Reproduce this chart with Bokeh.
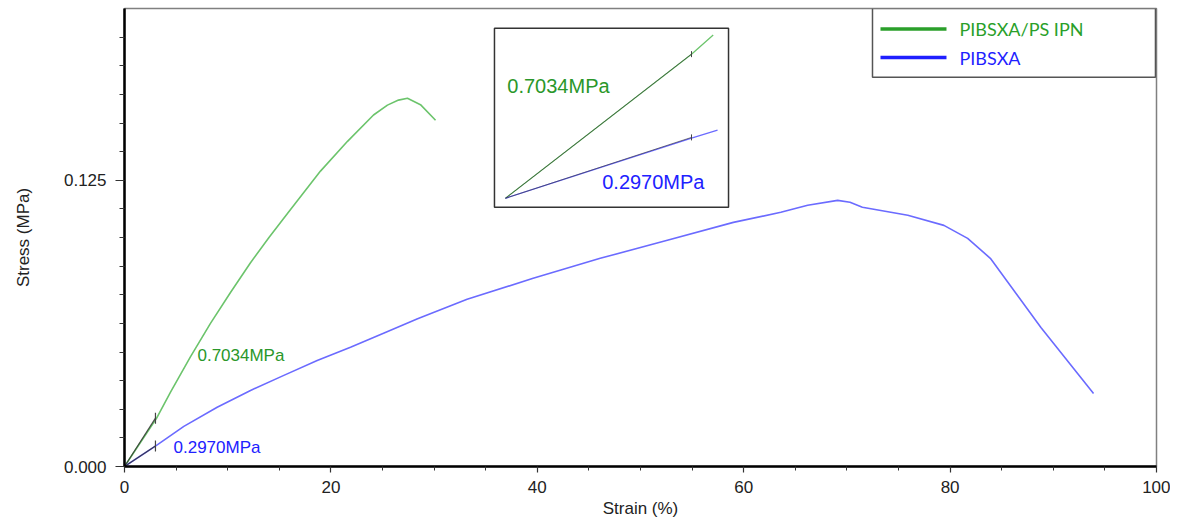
from bokeh.plotting import figure
from bokeh.models import Range1d, FixedTicker, PrintfTickFormatter
from bokeh.core.properties import value
from bokeh.embed import file_html
from bokeh.resources import INLINE

# ---------------- data ----------------
ipn_strain = [0, 3.1, 4.46, 6.40, 8.33, 10.27, 12.21, 14.0, 15.79, 18.99, 21.61,
              24.13, 25.48, 26.55, 27.42, 28.68, 30.14]
ipn_stress = [0, 0.0210, 0.0325, 0.0480, 0.0625, 0.0760, 0.0890, 0.1000, 0.1105,
              0.1290, 0.1420, 0.1535, 0.1578, 0.1600, 0.1608, 0.1580, 0.1512]

pib_strain = [0, 3.1, 5.75, 8.98, 12.21, 15.44, 18.67, 21.9, 25.1, 28.4, 33.2,
              39.6, 46.1, 52.6, 59.0, 63.6, 66.2, 69.1, 70.3, 71.5, 75.9, 79.4,
              81.7, 83.9, 88.8, 93.9]
pib_stress = [0, 0.0092, 0.0175, 0.0259, 0.0332, 0.0398, 0.0463, 0.0521, 0.0582,
              0.0645, 0.0730, 0.0822, 0.0909, 0.0988, 0.1066, 0.1110, 0.1141,
              0.1162, 0.1154, 0.1132, 0.1097, 0.1053, 0.0996, 0.0909, 0.0607,
              0.0319]

# initial (linear) region shown in the inset
ipn_inset_strain = [0, 3.0, 3.35]
ipn_inset_stress = [0, 0.0211, 0.0239]
pib_inset_strain = [0, 3.0, 3.42]
pib_inset_stress = [0, 0.0088, 0.00996]

series_names = ["PIBSXA/PS IPN", "PIBSXA"]
moduli = [0.7034, 0.2970]            # MPa, Young's modulus from fit
modulus_labels = ["0.7034MPa", "0.2970MPa"]
fit_strain = [0, 3.0]                # fit window (%)

x_ticks = [0, 20, 40, 60, 80, 100]
x_minor = [5, 10, 15, 25, 30, 35, 45, 50, 55, 65, 70, 75, 85, 90, 95]
y_ticks = [0.0, 0.125]
y_minor = [0.0125, 0.025, 0.0375, 0.05, 0.0625, 0.075, 0.0875, 0.1, 0.1125,
           0.1375, 0.15, 0.1625, 0.175, 0.1875]

# ---------------- styles ----------------
FONT = "Liberation Sans"
C_GREEN_LINE = "#6cc46c"
C_BLUE_LINE = "#6b6bff"
C_GREEN_TXT = "#2a972a"
C_BLUE_TXT = "#2121ff"
C_GREEN_LEG = "#2a9f2a"
C_BLUE_LEG = "#1f1fff"
C_FIT = "#2b2b2b"

p = figure(width=1170, height=520,
           x_range=Range1d(0, 100), y_range=Range1d(0, 0.2),
           output_backend="svg", toolbar_location=None,
           min_border_left=124, min_border_right=14,
           min_border_top=8, min_border_bottom=54)
p.xgrid.visible = False
p.ygrid.visible = False
p.outline_line_color = "#808080"
p.outline_line_width = 1.5
p.background_fill_color = "white"

for ax in (p.xaxis[0], p.yaxis[0]):
    ax.axis_line_color = "black"
    ax.axis_line_width = 2.5
    ax.major_tick_line_color = "#333333"
    ax.minor_tick_line_color = "#333333"
    ax.major_tick_line_width = 1.2
    ax.minor_tick_line_width = 1.0
    ax.major_tick_in = 0
    ax.minor_tick_in = 0
    ax.major_label_text_font = FONT
    ax.major_label_text_font_size = "17px"
    ax.major_label_text_color = "#222222"
    ax.axis_label_text_font = FONT
    ax.axis_label_text_font_size = "17px"
    ax.axis_label_text_font_style = "normal"
    ax.axis_label_text_color = "#222222"

p.xaxis.ticker = FixedTicker(ticks=x_ticks, minor_ticks=x_minor)
p.xaxis.major_tick_out = 6
p.xaxis.minor_tick_out = 4
p.xaxis.major_label_standoff = 8
p.xaxis.axis_label = "Strain (%)"
p.xaxis.axis_label_standoff = 3

p.yaxis.ticker = FixedTicker(ticks=y_ticks, minor_ticks=y_minor)
p.yaxis.formatter = PrintfTickFormatter(format="%.3f")
p.yaxis.major_tick_out = 9
p.yaxis.minor_tick_out = 5
p.yaxis.major_label_standoff = 9
p.yaxis.axis_label = "Stress (MPa)"
p.yaxis.axis_label_standoff = 28

# main curves
p.line(ipn_strain, ipn_stress, line_color=C_GREEN_LINE, line_width=1.6)
p.line(pib_strain, pib_stress, line_color=C_BLUE_LINE, line_width=1.6)

# modulus fit lines and end markers
for E in moduli:
    fit_stress = [E * s / 100 for s in fit_strain]
    p.line(fit_strain, fit_stress, line_color=C_FIT, line_width=1.2, line_alpha=0.8)
    p.scatter([fit_strain[-1]], [fit_stress[-1]], marker="dash", angle=1.5708,
              size=11, line_color="#444444", line_width=1.2)

p.text(x=[7.07], y=[0.0485], text=[modulus_labels[0]], text_color=C_GREEN_TXT,
       text_font=value(FONT), text_font_size="17px", text_baseline="middle")
p.text(x=[4.75], y=[0.0083], text=[modulus_labels[1]], text_color=C_BLUE_TXT,
       text_font=value(FONT), text_font_size="17px", text_baseline="middle")

# ---------------- inset (zoom on the linear region) ----------------
ix = Range1d(-0.177, 3.597)
iy = Range1d(-0.00132, 0.0249)
inset = p.subplot(x_source=ix, y_source=iy,
                  x_target=Range1d(35.85, 58.53), y_target=Range1d(0.1132, 0.1914))
inset.quad(left=[ix.start], right=[ix.end], bottom=[iy.start], top=[iy.end],
           fill_color="white", line_color="#333333", line_width=1.5)
inset.line(ipn_inset_strain, ipn_inset_stress, line_color=C_GREEN_LINE, line_width=1.3)
inset.line(pib_inset_strain, pib_inset_stress, line_color=C_BLUE_LINE, line_width=1.3)
for E in moduli:
    fit_stress = [E * s / 100 for s in fit_strain]
    inset.line(fit_strain, fit_stress, line_color=C_FIT, line_width=1.0, line_alpha=0.6)
    inset.scatter([fit_strain[-1]], [fit_stress[-1]], marker="dash", angle=1.5708,
                  size=6, line_color="#444444", line_width=1.0)
inset.text(x=[0.03], y=[0.0164], text=[modulus_labels[0]], text_color=C_GREEN_TXT,
           text_font=value(FONT), text_font_size="20px", text_baseline="middle")
inset.text(x=[1.56], y=[0.00234], text=[modulus_labels[1]], text_color=C_BLUE_TXT,
           text_font=value(FONT), text_font_size="20px", text_baseline="middle")

# ---------------- legend box ----------------
lx = Range1d(0, 283)
ly = Range1d(0, 70)
leg = p.subplot(x_source=lx, y_source=ly,
                x_target=Range1d(72.48, 99.90), y_target=Range1d(0.1700, 0.2))
leg.quad(left=[lx.start], right=[lx.end], bottom=[ly.start], top=[ly.end],
         fill_color="white", line_color="#555555", line_width=1.5)
leg.line([8, 74], [49, 49], line_color=C_GREEN_LEG, line_width=3.5)
leg.line([8, 74], [20, 20], line_color=C_BLUE_LEG, line_width=3.5)
leg.text(x=[87], y=[49], text=[series_names[0]], text_color=C_GREEN_LEG,
         text_font=value("Lato"), text_font_size="18px", text_baseline="middle")
leg.text(x=[87], y=[20], text=[series_names[1]], text_color=C_BLUE_LEG,
         text_font=value("Lato"), text_font_size="18px", text_baseline="middle")

open("out.html", "w").write(file_html(p, INLINE))
